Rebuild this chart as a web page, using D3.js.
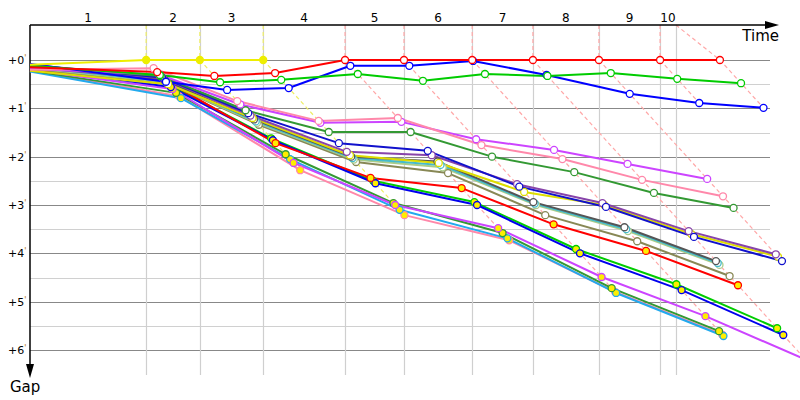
<!DOCTYPE html>
<html>
<head>
<meta charset="utf-8">
<script src="https://cdn.jsdelivr.net/npm/d3@7"></script>
<style>
  body { margin: 0; background: #fff; }
  svg { font-family: "DejaVu Sans", Verdana, sans-serif; display: block; }
</style>
</head>
<body>
<script>
// leader lap times (minutes from start) and the time limit
var lapLabels = ["1", "2", "3", "4", "5", "6", "7", "8", "9", "10"];
var leaderLaps = [2.64, 3.86, 5.30, 7.16, 8.50, 10.05, 11.43, 12.93, 14.32, 15.68];
var timeLimit = 14.68;
var yellowLaps = 3;
var gapTicks = [0, 1, 2, 3, 4, 5, 6];

// gap to leader (minutes): index 0 = start, index k = end of lap k
var safetyCar     = [0.10, 0, 0, 0];
var redLeader     = [0.15, 0.25, 0.33, 0.27, 0, 0, 0, 0, 0, 0, 0];
var greenTop      = [0.12, 0.31, 0.46, 0.41, 0.29, 0.43, 0.29, 0.33, 0.27, 0.39, 0.48];
var blueTop       = [0.08, 0.45, 0.62, 0.58, 0.12, 0.12, 0.02, 0.31, 0.70, 0.89, 0.99];
var pinkMid       = [0.20, 0.17, 0.85, 1.26, 1.20, 1.76, 2.05, 2.48, 2.82];
var magentaMid    = [0.18, 0.30, 0.92, 1.30, 1.28, 1.64, 1.86, 2.15, 2.46];
var dkGreenMid    = [0.14, 0.33, 1.04, 1.49, 1.49, 2.00, 2.32, 2.75, 3.06];
var navyMid       = [0.10, 0.36, 1.10, 1.72, 1.88, 2.62, 3.04, 3.66, 4.16];
var purpleMid     = [0.16, 0.38, 1.15, 1.90, 1.97, 2.57, 2.96, 3.54, 4.02];
var yellowMid     = [0.22, 0.50, 1.20, 1.97, 2.13, 2.73, 3.00, 3.60, 4.07];
var grayMid       = [0.12, 0.42, 1.23, 2.00, 2.10, 2.94, 3.46, 4.16];
var tealMid       = [0.14, 0.44, 1.27, 2.03, 2.17, 2.97, 3.50, 4.20];
var ltGreenMid    = [0.16, 0.46, 1.30, 2.06, 2.22, 3.00, 3.54, 4.24];
var oliveMid      = [0.18, 0.48, 1.34, 2.11, 2.34, 3.21, 3.75, 4.47];
var redLapped     = [0.20, 0.41, 1.72, 2.44, 2.65, 3.40, 3.95, 4.66];
var greenLapped   = [0.12, 0.50, 1.62, 2.50, 2.94, 3.91, 4.64, 5.55];
var blueLapped    = [0.15, 0.56, 1.66, 2.55, 3.00, 4.00, 4.76, 5.69];
var magentaLapped = [0.20, 0.60, 2.13, 3.00, 3.48, 4.49, 5.30, 6.20];
var dkGreenLapped = [0.22, 0.68, 1.95, 2.96, 3.58, 4.72, 5.61];
var pinkLapped    = [0.22, 0.75, 2.28, 3.21, 3.73, 4.80, 5.68];
var cyanLapped    = [0.24, 0.79, 2.05, 3.10, 3.69, 4.82, 5.71];

var cars = [
  {gaps: pinkLapped,    color: "#ff88aa", fill: "#ffee00"},
  {gaps: cyanLapped,    color: "#22aaee", fill: "#ffee00"},
  {gaps: dkGreenLapped, color: "#339933", fill: "#ffee00"},
  {gaps: magentaLapped, color: "#cc44ff", fill: "#ffee00"},
  {gaps: greenLapped,   color: "#00cc00", fill: "#ffee00"},
  {gaps: blueLapped,    color: "#0000ee", fill: "#ffee00"},
  {gaps: redLapped,     color: "#ff0000", fill: "#ffee00"},
  {gaps: oliveMid,      color: "#888855", fill: "#fff"},
  {gaps: ltGreenMid,    color: "#aacc88", fill: "#fff"},
  {gaps: tealMid,       color: "#44bbcc", fill: "#fff"},
  {gaps: grayMid,       color: "#555555", fill: "#fff"},
  {gaps: yellowMid,     color: "#dddd00", fill: "#fff"},
  {gaps: purpleMid,     color: "#8844aa", fill: "#fff"},
  {gaps: navyMid,       color: "#1111cc", fill: "#fff"},
  {gaps: dkGreenMid,    color: "#339933", fill: "#fff"},
  {gaps: magentaMid,    color: "#cc44ff", fill: "#fff"},
  {gaps: pinkMid,       color: "#ff88aa", fill: "#fff"},
  {gaps: blueTop,       color: "#0000ff", fill: "#fff"},
  {gaps: greenTop,      color: "#00cc00", fill: "#fff"},
  {gaps: redLeader,     color: "#ff0000", fill: "#fff"},
  {gaps: safetyCar,     color: "#eeee00", fill: "#eeee00"}
];

var width = 800, height = 400;
var axisTop = 25, axisLeft = 30, gridBottom = 375;

var x = d3.scaleLinear().domain([0, 17.5]).range([axisLeft, 800]);
var y = d3.scaleLinear().domain([0, 6]).range([60, 350]);
var gapTop = y.invert(axisTop);

var svg = d3.select("body").append("svg")
    .attr("width", width)
    .attr("height", height);

// horizontal grid
svg.append("g").selectAll("line")
    .data(d3.range(0, 6.01, 0.5))
  .enter().append("line")
    .attr("x1", axisLeft).attr("x2", 770)
    .attr("y1", function(d) { return Math.round(y(d)) + 0.5; })
    .attr("y2", function(d) { return Math.round(y(d)) + 0.5; })
    .attr("stroke", function(d) { return d % 1 === 0 ? "#888" : "#d0d0d0"; })
    .attr("stroke-width", 1.2);

// vertical grid at leader laps + time limit
var vlines = leaderLaps.slice(0, 9).concat([timeLimit]);
svg.append("g").selectAll("line")
    .data(vlines)
  .enter().append("line")
    .attr("x1", function(d) { return Math.round(x(d)) + 0.5; })
    .attr("x2", function(d) { return Math.round(x(d)) + 0.5; })
    .attr("y1", axisTop).attr("y2", gridBottom)
    .attr("stroke", "#cfcfcf")
    .attr("stroke-width", 1.2);

function lapColor(i) { return i < yellowLaps ? "#eeee66" : "#ffa8a8"; }

// dashed lap lines: vertical above gap 0, then diagonal (gap = time - leader lap)
// down to the last car that completed that lap
var dashed = svg.append("g")
    .attr("fill", "none")
    .attr("stroke-width", 1.2)
    .attr("stroke-dasharray", "4,3");

leaderLaps.forEach(function(L, i) {
  var maxGap = d3.max(cars, function(c) { return c.gaps.length > i + 1 ? c.gaps[i + 1] : 0; });
  var start = i < 9 ? [x(L), y(gapTop)] : [x(timeLimit), y(gapTop)];
  var pts = [start, [x(L), y(0)], [x(L + maxGap), y(maxGap)]];
  dashed.append("path")
      .attr("d", d3.line()(pts))
      .attr("stroke", lapColor(i));
});

// axes
svg.append("line")
    .attr("x1", axisLeft).attr("x2", 770).attr("y1", axisTop).attr("y2", axisTop)
    .attr("stroke", "#000").attr("stroke-width", 1.5);
svg.append("path")
    .attr("d", "M765,21L779,25L765,29Z").attr("fill", "#000");
svg.append("line")
    .attr("x1", axisLeft).attr("x2", axisLeft).attr("y1", axisTop).attr("y2", 368)
    .attr("stroke", "#000").attr("stroke-width", 1.5);
svg.append("path")
    .attr("d", "M26,364L30,378L34,364Z").attr("fill", "#000");

svg.append("text")
    .attr("x", 779).attr("y", 41)
    .attr("text-anchor", "end")
    .style("font-size", "15px")
    .text("Time");
svg.append("text")
    .attr("x", 10).attr("y", 392)
    .style("font-size", "15px")
    .text("Gap");

// lap labels centred between grid lines
var bounds = [0].concat(vlines);
svg.append("g").selectAll("text")
    .data(lapLabels)
  .enter().append("text")
    .attr("x", function(d, i) { return (x(bounds[i]) + x(bounds[i + 1])) / 2; })
    .attr("y", 22)
    .attr("text-anchor", "middle")
    .style("font-size", "12px")
    .text(function(d) { return d; });

// gap labels
var gl = svg.append("g").selectAll("text")
    .data(gapTicks)
  .enter().append("text")
    .attr("x", 8)
    .attr("y", function(d) { return y(d) + 4; })
    .style("font-size", "11px");
gl.append("tspan").text(function(d) { return "+" + d; });
gl.append("tspan").attr("dy", -3).style("font-size", "8px").attr("fill", "#b07000").text("'");

// car lines
function points(gaps) {
  return gaps.map(function(g, k) {
    return {t: k === 0 ? 0 : leaderLaps[k - 1] + g, g: g, k: k};
  });
}

var line = d3.line()
    .x(function(d) { return x(d.t); })
    .y(function(d) { return y(d.g); });

cars.forEach(function(c) {
  svg.append("path")
      .attr("d", line(points(c.gaps)))
      .attr("fill", "none")
      .attr("stroke", c.color)
      .attr("stroke-width", 2)
      .attr("stroke-linejoin", "round");
});

cars.forEach(function(c) {
  svg.append("g").selectAll("circle")
      .data(points(c.gaps).slice(1))
    .enter().append("circle")
      .attr("cx", function(d) { return x(d.t); })
      .attr("cy", function(d) { return y(d.g); })
      .attr("r", 3.5)
      .attr("fill", c.fill)
      .attr("stroke", c.color)
      .attr("stroke-width", 1.3);
});
</script>
</body>
</html>
